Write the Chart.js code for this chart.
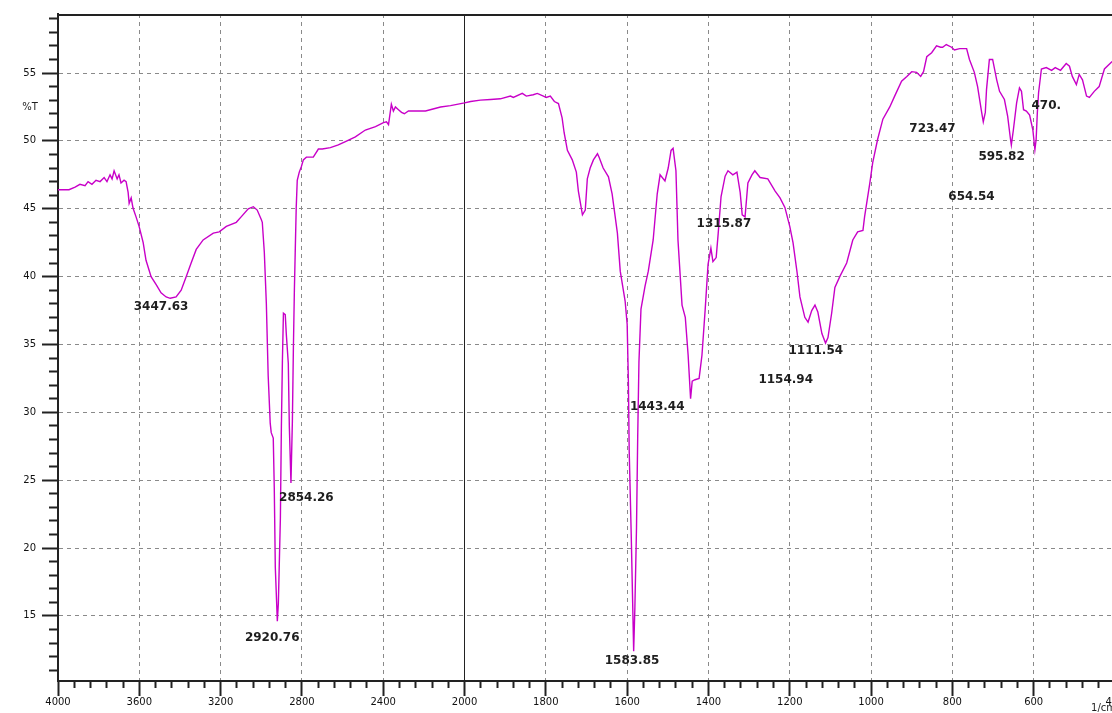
<!DOCTYPE html>
<html>
<head>
<meta charset="utf-8">
<title>IR spectrum</title>
<script src="https://cdn.jsdelivr.net/npm/chart.js"></script>
<style>
  html, body { margin: 0; padding: 0; background: #fff; overflow: hidden; }
  #ir { display: block; }
</style>
</head>
<body>
<canvas id="ir" width="1128" height="713"></canvas>
<script>
// wavenumber (1/cm) and transmittance (%T)
const wavenumbers = [
  4000, 3946, 3916, 3892, 3867, 3852, 3833, 3813, 3793, 3773, 3759, 3744, 3734, 3724, 3709, 3700,
  3690, 3675, 3665, 3655, 3650, 3640, 3631, 3616, 3601, 3581, 3567, 3542, 3517, 3493, 3468, 3448,
  3419, 3394, 3369, 3345, 3320, 3286, 3236, 3207, 3172, 3123, 3099, 3064, 3039, 3020, 3000, 2995,
  2985, 2975, 2966, 2956, 2951, 2941, 2936, 2931, 2921, 2916, 2906, 2901, 2896, 2891, 2882, 2877,
  2867, 2862, 2854, 2847, 2842, 2837, 2833, 2828, 2823, 2813, 2803, 2793, 2778, 2744, 2719, 2700,
  2660, 2621, 2586, 2537, 2488, 2438, 2399, 2384, 2374, 2360, 2350, 2340, 2325, 2310, 2296, 2276,
  2251, 2192, 2118, 2069, 2000,
  1985, 1961, 1936, 1912, 1887, 1880, 1858, 1848, 1831, 1821, 1806, 1799, 1789, 1779, 1769, 1760,
  1755, 1747, 1735, 1725, 1720, 1710, 1703, 1698, 1691, 1683, 1673, 1669, 1659, 1646, 1637, 1624,
  1617, 1605, 1600, 1597, 1595, 1590, 1586, 1584, 1581, 1577, 1574, 1571, 1566, 1556, 1548, 1536,
  1526, 1519, 1507, 1499, 1492, 1487, 1480, 1475, 1465, 1457, 1450, 1444, 1440, 1433, 1423, 1416,
  1408, 1401, 1394, 1389, 1381, 1376, 1369, 1359, 1352, 1340, 1330, 1322, 1317, 1310, 1303, 1293,
  1286, 1273, 1254, 1236, 1224, 1212, 1200, 1192, 1182, 1175, 1163, 1155, 1146, 1138, 1131, 1121,
  1112, 1106, 1097, 1089, 1077, 1060, 1045, 1033, 1020, 1016, 1003, 996, 984, 971, 954, 942,
  925, 912, 900, 888, 878, 871, 863, 851, 839, 829, 824, 815, 802, 795, 782, 765,
  758, 746, 738, 728, 724, 719, 716, 709, 701, 691, 684, 672, 664, 657, 655, 650,
  642, 635, 630, 625, 618, 610, 602, 597, 594, 591, 588, 581, 569, 556, 547, 534,
  520, 512, 505, 495, 488, 480, 470, 463, 451, 439, 426, 409, 400
];
const transmittance = [
  46.4, 46.4, 46.6, 46.8, 46.7, 47.0, 46.8, 47.1, 47.0, 47.3, 47.0, 47.5, 47.2, 47.8, 47.2, 47.5,
  46.9, 47.1, 47.0, 46.2, 45.4, 45.8, 45.05, 44.4, 43.7, 42.5, 41.2, 40.0, 39.4, 38.8, 38.5, 38.4,
  38.5, 39.0, 40.0, 41.0, 42.0, 42.7, 43.2, 43.3, 43.7, 44.0, 44.4, 45.0, 45.15, 44.9, 44.2, 44.0,
  41.8, 38.0, 32.7, 29.2, 28.5, 28.1, 24.4, 18.6, 14.6, 15.9, 22.2, 29.0, 33.8, 37.3, 37.2, 35.8,
  33.6, 29.0, 24.8, 29.3, 34.7, 39.1, 41.8, 45.1, 47.1, 47.7, 48.1, 48.6, 48.8, 48.8, 49.4, 49.4,
  49.5, 49.7, 49.95, 50.3, 50.8, 51.05, 51.35, 51.4, 51.2, 52.7, 52.2, 52.5, 52.3, 52.1, 52.0, 52.2,
  52.2, 52.2, 52.5, 52.6, 52.8,
  52.9, 53.0, 53.05, 53.1, 53.3, 53.2, 53.5, 53.3, 53.4, 53.5, 53.3, 53.2, 53.3, 52.9, 52.75, 51.7,
  50.6, 49.3, 48.6, 47.7, 46.3, 44.55, 44.9, 47.2, 48.0, 48.6, 49.05, 48.8, 48.0, 47.35, 46.1, 43.2,
  40.4, 38.2, 36.5, 32.3, 27.2, 21.0, 15.3, 12.4, 15.6, 21.5, 28.3, 33.7, 37.6, 39.3, 40.4, 42.7,
  46.1, 47.5, 47.05, 48.0, 49.3, 49.45, 47.8, 42.7, 37.9, 37.0, 34.2, 31.0, 32.3, 32.4, 32.5, 34.2,
  37.6, 40.9, 42.1, 41.1, 41.4, 43.2, 45.9, 47.4, 47.8, 47.5, 47.7, 46.2, 44.55, 44.4, 46.9, 47.5,
  47.8, 47.3, 47.2, 46.3, 45.8, 45.1, 43.7, 42.5, 40.3, 38.5, 37.0, 36.65, 37.5, 37.9, 37.4, 35.8,
  35.1, 35.5, 37.3, 39.2, 40.0, 41.0, 42.7, 43.3, 43.4, 44.4, 46.9, 48.4, 50.1, 51.6, 52.5, 53.3,
  54.4, 54.75, 55.1, 55.05, 54.75, 55.1, 56.2, 56.5, 57.0, 56.9, 56.9, 57.1, 56.9, 56.7, 56.8, 56.8,
  56.0, 55.05, 54.0, 52.1, 51.4, 52.1, 53.8, 56.0, 56.0, 54.5, 53.65, 53.05, 51.8, 50.1, 49.7, 50.8,
  52.8, 53.9, 53.65, 52.3, 52.2, 51.9, 50.8, 49.35, 50.1, 52.1, 53.55, 55.3, 55.4, 55.2, 55.4, 55.2,
  55.7, 55.5, 54.75, 54.15, 54.9, 54.5, 53.3, 53.2, 53.65, 54.0, 55.3, 55.8, 56.0
];

// axis tick labels
const xTickLabels = [4000, 3600, 3200, 2800, 2400, 2000, 1800, 1600, 1400, 1200, 1000, 800, 600, 400];
const yTickLabels = [15, 20, 25, 30, 35, 40, 45, 50, 55];

// peak annotations: text, and where it sits (wavenumber, %T)
const peakTexts = ['3447.63', '2920.76', '2854.26', '1583.85', '1443.44', '1315.87',
                   '1154.94', '1111.54', '723.47', '654.54', '595.82', '470.'];
const peakLabelWn = [3493, 2946, 2778, 1588, 1526, 1362, 1210, 1136, 849, 753, 679, 569];
const peakLabelT = [37.75, 13.4, 23.7, 11.7, 30.4, 43.9, 32.4, 34.5, 50.85, 45.9, 48.8, 52.6];

// the instrument compresses 4000-2000 to half scale
function toAxis(w) { return w <= 2000 ? w : 2000 + (w - 2000) / 2; }
function fromAxis(u) { return u <= 2000 ? u : 2000 + (u - 2000) * 2; }

const majorX = xTickLabels.map(toAxis);
const xTickPos = [];
for (let u = 400; u <= 3000; u += 40) xTickPos.push(u);
const yTickPos = [];
for (let v = 11; v <= 59; v++) yTickPos.push(v);

const isMajorX = v => majorX.some(m => Math.abs(m - v) < 0.01);
const isMajorY = v => yTickLabels.includes(v);

const points = wavenumbers.map((w, i) => ({ x: toAxis(w), y: transmittance[i] }));

const GRID = '#8a8a8a';
const AXIS = '#222';

const overlay = {
  id: 'overlay',
  afterDraw(chart) {
    const { ctx, chartArea, scales: { x, y } } = chart;
    ctx.save();
    // top frame line
    ctx.strokeStyle = AXIS;
    ctx.lineWidth = 2;
    ctx.beginPath();
    ctx.moveTo(chartArea.left, chartArea.top + 1);
    ctx.lineTo(chartArea.right, chartArea.top + 1);
    ctx.stroke();

    // peak labels
    ctx.fillStyle = '#1e1e1e';
    ctx.font = 'bold 12px "DejaVu Sans"';
    ctx.textAlign = 'center';
    ctx.textBaseline = 'middle';
    peakTexts.forEach((t, i) => {
      ctx.fillText(t, x.getPixelForValue(toAxis(peakLabelWn[i])), y.getPixelForValue(peakLabelT[i]));
    });

    // axis captions
    ctx.font = '10px "DejaVu Sans"';
    ctx.fillText('%T', 30, y.getPixelForValue(52.5));
    ctx.textAlign = 'right';
    ctx.fillText('1/cm', x.right + 1, 708);
    ctx.restore();
  }
};

new Chart(document.getElementById('ir'), {
  type: 'line',
  data: {
    datasets: [{
      data: points,
      borderColor: '#c800c8',
      borderWidth: 1.4,
      pointRadius: 0,
      tension: 0,
      fill: false
    }]
  },
  options: {
    responsive: false,
    animation: false,
    layout: { padding: { left: 0, right: 13, top: 14, bottom: 0 } },
    plugins: { legend: { display: false }, tooltip: { enabled: false } },
    scales: {
      x: {
        type: 'linear',
        reverse: true,
        min: 400,
        max: 3000,
        afterBuildTicks: s => { s.ticks = xTickPos.map(v => ({ value: v })); },
        afterFit: s => { s.height = 32; },
        ticks: {
          autoSkip: false,
          maxRotation: 0,
          padding: 0,
          color: '#111',
          font: { family: 'DejaVu Sans', size: 10 },
          callback: v => isMajorX(v) ? String(fromAxis(v)) : ''
        },
        grid: {
          color: c => {
            if (!c.tick) return GRID;
            const v = c.tick.value;
            if (v === 3000 || v === 400) return 'rgba(0,0,0,0)';
            if (v === 2000) return '#222';
            return isMajorX(v) ? GRID : 'rgba(0,0,0,0)';
          },
          lineWidth: 1,
          tickLength: 15,
          tickWidth: 2,
          tickColor: AXIS,
          tickBorderDash: c => (c.tick && isMajorX(c.tick.value)) ? [] : [6, 40]
        },
        border: {
          display: true,
          color: AXIS,
          width: 2,
          dash: c => (c.tick && c.tick.value !== 2000) ? [4, 4] : []
        }
      },
      y: {
        type: 'linear',
        min: 10.2,
        max: 59.35,
        afterBuildTicks: s => { s.ticks = yTickPos.map(v => ({ value: v })); },
        afterFit: s => { s.width = 58; },
        ticks: {
          autoSkip: false,
          padding: 6,
          color: '#111',
          font: { family: 'DejaVu Sans', size: 10 },
          callback: v => isMajorY(v) ? String(v) : ''
        },
        grid: {
          color: c => (c.tick && isMajorY(c.tick.value)) ? GRID : 'rgba(0,0,0,0)',
          lineWidth: 1,
          tickLength: 16,
          tickWidth: 2,
          tickColor: AXIS,
          tickBorderDash: c => (c.tick && isMajorY(c.tick.value)) ? [] : [0, 7, 8, 40]
        },
        border: {
          display: true,
          color: AXIS,
          width: 2,
          dash: c => c.tick ? [4, 4] : []
        }
      }
    }
  },
  plugins: [overlay]
});
</script>
</body>
</html>
